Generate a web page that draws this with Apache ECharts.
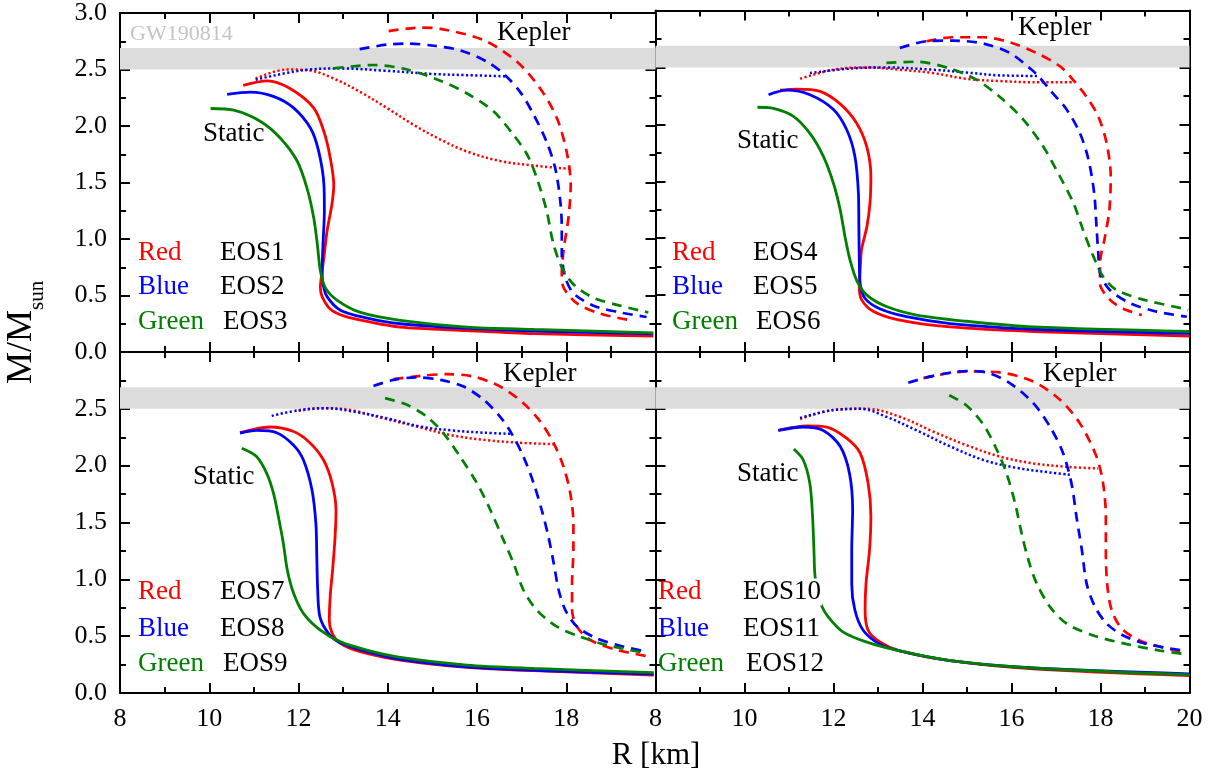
<!DOCTYPE html>
<html><head><meta charset="utf-8">
<script src="https://cdn.jsdelivr.net/npm/echarts@6/dist/echarts.min.js"></script>
<style>html,body{margin:0;padding:0;background:#fff}#c{width:1217px;height:776px}</style>
</head><body><div id="c"></div>
<script>
// ---------- data: [R (km), M/Msun] ----------
// Panel 1 (EOS1-3)
const eos1Static = [[10.76,2.36],[11.30,2.40],[11.82,2.33],[12.34,2.16],[12.57,1.95],[12.71,1.72],[12.79,1.48],[12.75,1.31],[12.64,1.07],[12.57,0.84],[12.51,0.66],[12.49,0.57],[12.53,0.49],[12.71,0.38],[13.01,0.32],[13.54,0.27],[14.28,0.22],[15.77,0.19],[17.27,0.163],[19.95,0.14]];
const eos1Dotted = [[11.04,2.42],[11.74,2.50],[12.27,2.49],[12.79,2.42],[13.39,2.30],[13.98,2.16],[14.58,2.01],[15.18,1.88],[15.77,1.775],[16.52,1.69],[17.27,1.65],[18.09,1.62]];
const eos1Kepler = [[14.02,2.84],[14.73,2.87],[15.18,2.86],[16.15,2.76],[16.89,2.57],[17.42,2.33],[17.79,2.07],[18.01,1.77],[18.10,1.48],[18.05,1.19],[17.94,0.90],[17.90,0.69],[17.94,0.57],[18.24,0.43],[18.76,0.34],[19.45,0.28]];
const eos2Static = [[10.40,2.28],[10.92,2.30],[11.45,2.26],[11.89,2.16],[12.27,1.98],[12.45,1.78],[12.57,1.48],[12.58,1.25],[12.55,0.96],[12.53,0.72],[12.55,0.60],[12.64,0.49],[12.94,0.37],[13.54,0.30],[14.28,0.25],[15.77,0.21],[17.27,0.185],[19.95,0.16]];
const eos2Dotted = [[11.04,2.41],[12.04,2.49],[12.94,2.51],[13.91,2.49],[15.03,2.46],[15.77,2.45],[16.63,2.44]];
const eos2Kepler = [[13.37,2.68],[13.98,2.72],[14.43,2.73],[15.03,2.71],[15.62,2.67],[16.22,2.57],[16.63,2.45],[16.97,2.30],[17.27,2.10],[17.56,1.86],[17.75,1.63],[17.86,1.36],[17.90,1.10],[17.90,0.87],[17.98,0.66],[18.16,0.52],[18.61,0.41],[19.21,0.35],[19.80,0.31]];
const eos3Static = [[10.03,2.155],[10.55,2.14],[11.15,2.04],[11.60,1.89],[11.97,1.69],[12.19,1.45],[12.34,1.19],[12.42,0.96],[12.49,0.72],[12.60,0.57],[12.86,0.46],[13.39,0.35],[14.28,0.28],[15.77,0.22],[17.27,0.20],[19.95,0.17]];
const eos3Kepler = [[12.79,2.51],[13.68,2.54],[14.43,2.50],[15.18,2.40],[15.77,2.29],[16.37,2.13],[16.82,1.92],[17.12,1.75],[17.34,1.54],[17.56,1.25],[17.71,0.96],[17.90,0.75],[18.16,0.60],[18.61,0.48],[19.21,0.41],[19.84,0.35]];
// Panel 2 (EOS4-6)
const eos4Static = [[10.80,2.30],[11.17,2.31],[11.70,2.29],[12.15,2.18],[12.52,2.01],[12.75,1.80],[12.84,1.54],[12.82,1.31],[12.75,1.10],[12.63,0.90],[12.60,0.72],[12.58,0.57],[12.63,0.46],[12.90,0.355],[13.49,0.28],[14.62,0.22],[16.49,0.18],[20.0,0.14]];
const eos4Dotted = [[11.25,2.40],[12.0,2.48],[12.75,2.50],[13.49,2.48],[14.24,2.45],[14.99,2.40],[15.74,2.38],[16.49,2.37],[17.39,2.37]];
const eos4Kepler = [[14.09,2.73],[14.69,2.765],[15.37,2.765],[15.97,2.72],[16.57,2.625],[17.09,2.51],[17.43,2.37],[17.69,2.24],[17.95,2.07],[18.14,1.83],[18.23,1.54],[18.20,1.25],[18.10,1.01],[17.99,0.78],[17.99,0.60],[18.21,0.46],[18.51,0.38],[18.93,0.325]];
const eos5Static = [[10.54,2.26],[10.95,2.30],[11.47,2.26],[12.0,2.13],[12.30,1.95],[12.48,1.72],[12.56,1.39],[12.57,1.10],[12.58,0.81],[12.60,0.60],[12.71,0.47],[13.04,0.38],[13.64,0.31],[14.62,0.25],[16.49,0.20],[20.0,0.163]];
const eos5Dotted = [[11.47,2.45],[12.37,2.49],[13.12,2.50],[14.24,2.48],[14.99,2.455],[15.74,2.43],[16.60,2.425]];
const eos5Kepler = [[13.49,2.67],[14.09,2.73],[14.69,2.735],[15.37,2.71],[15.97,2.625],[16.42,2.49],[16.60,2.425],[16.87,2.30],[17.24,2.13],[17.54,1.92],[17.73,1.69],[17.86,1.39],[17.91,1.10],[17.95,0.87],[17.99,0.69],[18.21,0.545],[18.66,0.43],[19.26,0.355],[19.94,0.31]];
const eos6Static = [[10.29,2.15],[10.65,2.14],[11.10,2.07],[11.47,1.92],[11.77,1.72],[12.0,1.48],[12.15,1.25],[12.26,1.01],[12.37,0.81],[12.52,0.63],[12.75,0.50],[13.19,0.40],[13.87,0.325],[14.99,0.27],[16.49,0.22],[20.0,0.18]];
const eos6Kepler = [[13.19,2.54],[13.87,2.55],[14.62,2.49],[15.22,2.39],[15.74,2.24],[16.27,2.04],[16.72,1.80],[17.09,1.54],[17.39,1.31],[17.61,1.07],[17.84,0.84],[18.06,0.66],[18.36,0.545],[18.96,0.46],[19.64,0.40],[19.97,0.37]];
// Panel 3 (EOS7-9)
const eos7Static = [[10.69,2.29],[11.0,2.32],[11.36,2.34],[11.89,2.30],[12.26,2.20],[12.56,2.05],[12.75,1.85],[12.84,1.61],[12.82,1.376],[12.77,1.11],[12.71,0.85],[12.69,0.64],[12.75,0.53],[12.93,0.44],[13.38,0.364],[14.28,0.29],[15.77,0.226],[17.27,0.196],[19.96,0.158]];
const eos7Dotted = [[12.0,2.482],[12.56,2.506],[13.16,2.49],[13.90,2.417],[14.65,2.344],[15.40,2.27],[16.15,2.227],[16.89,2.203],[17.72,2.189]];
const eos7Kepler = [[14.13,2.761],[14.73,2.79],[15.32,2.805],[15.92,2.784],[16.52,2.696],[17.04,2.55],[17.42,2.388],[17.72,2.197],[17.94,1.99],[18.09,1.757],[18.16,1.493],[18.16,1.258],[18.13,0.965],[18.13,0.73],[18.24,0.584],[18.54,0.466],[19.14,0.378],[19.81,0.325]];
const eos8Static = [[10.69,2.286],[11.06,2.31],[11.51,2.29],[11.89,2.18],[12.11,2.05],[12.30,1.79],[12.39,1.49],[12.41,1.20],[12.43,0.906],[12.48,0.67],[12.67,0.525],[12.93,0.443],[13.53,0.364],[14.28,0.296],[15.77,0.23],[17.27,0.20],[19.96,0.167]];
const eos8Dotted = [[11.40,2.438],[12.04,2.49],[12.63,2.506],[13.23,2.476],[13.98,2.417],[14.73,2.344],[15.47,2.309],[16.15,2.29],[16.78,2.28]];
const eos8Kepler = [[13.68,2.70],[14.13,2.755],[14.65,2.776],[15.18,2.755],[15.70,2.696],[16.15,2.579],[16.52,2.43],[16.78,2.28],[17.04,2.08],[17.27,1.845],[17.45,1.61],[17.60,1.376],[17.72,1.14],[17.83,0.906],[17.98,0.73],[18.24,0.584],[18.69,0.48],[19.29,0.407],[19.81,0.363]];
const eos9Static = [[10.73,2.153],[11.06,2.08],[11.29,1.93],[11.44,1.757],[11.55,1.55],[11.66,1.317],[11.75,1.08],[11.89,0.877],[12.11,0.70],[12.48,0.555],[12.93,0.452],[13.53,0.378],[14.28,0.314],[15.77,0.246],[17.27,0.217],[19.96,0.179]];
const eos9Kepler = [[13.94,2.594],[14.43,2.535],[14.88,2.43],[15.25,2.285],[15.62,2.08],[16.0,1.845],[16.30,1.61],[16.56,1.376],[16.82,1.14],[17.04,0.906],[17.34,0.73],[17.79,0.584],[18.31,0.495],[18.91,0.422],[19.81,0.349]];
// Panel 4 (EOS10-12)
const eos10Static = [[10.76,2.31],[11.40,2.35],[11.85,2.34],[12.30,2.24],[12.60,2.11],[12.78,1.84],[12.84,1.55],[12.81,1.26],[12.73,0.96],[12.71,0.73],[12.78,0.55],[13.04,0.45],[13.49,0.37],[14.62,0.285],[16.49,0.212],[20.0,0.153]];
const eos10Dotted = [[11.25,2.41],[12.0,2.49],[12.75,2.50],[13.49,2.43],[14.24,2.30],[14.99,2.18],[15.74,2.08],[16.49,2.02],[17.24,1.99],[17.95,1.975]];
const eos10Kepler = [[14.02,2.77],[14.99,2.83],[15.74,2.82],[16.49,2.74],[17.09,2.58],[17.54,2.37],[17.91,2.08],[18.06,1.84],[18.12,1.55],[18.12,1.26],[18.15,0.96],[18.25,0.73],[18.48,0.565],[18.89,0.46],[19.41,0.40],[19.86,0.36]];
const eos11Static = [[10.76,2.31],[11.32,2.34],[11.77,2.31],[12.15,2.17],[12.36,1.93],[12.43,1.61],[12.41,1.26],[12.41,0.96],[12.48,0.73],[12.67,0.55],[13.04,0.43],[13.49,0.37],[14.62,0.285],[16.49,0.22],[20.0,0.168]];
const eos11Dotted = [[11.25,2.42],[12.0,2.49],[12.60,2.50],[13.19,2.43],[13.87,2.31],[14.62,2.17],[15.37,2.05],[16.12,1.98],[16.87,1.94],[17.31,1.92]];
const eos11Kepler = [[13.68,2.73],[14.24,2.79],[14.99,2.833],[15.44,2.82],[15.97,2.725],[16.49,2.55],[16.87,2.34],[17.16,2.11],[17.35,1.84],[17.46,1.55],[17.58,1.26],[17.69,0.96],[17.88,0.756],[18.14,0.61],[18.51,0.506],[19.04,0.43],[19.86,0.374]];
const eos12Static = [[11.11,2.146],[11.32,2.05],[11.47,1.84],[11.53,1.55],[11.56,1.26],[11.58,1.05],[11.63,0.90],[11.73,0.77],[11.88,0.67],[12.22,0.535],[12.75,0.447],[13.49,0.37],[14.62,0.285],[16.49,0.22],[20.0,0.16]];
const eos12Kepler = [[14.60,2.62],[14.99,2.53],[15.37,2.36],[15.67,2.14],[15.89,1.93],[16.08,1.67],[16.23,1.40],[16.38,1.17],[16.57,0.96],[16.87,0.755],[17.24,0.61],[17.84,0.506],[18.59,0.43],[19.34,0.373],[19.86,0.344]];

const gwBand = [2.5, 2.69];
const xRange = [8, 20];
const yRange = [0, 3];
const colorNames = ['Red', 'Blue', 'Green'];
const eosNames = [['EOS1','EOS2','EOS3'],['EOS4','EOS5','EOS6'],['EOS7','EOS8','EOS9'],['EOS10','EOS11','EOS12']];

// ---------- layout ----------
const COLORS = ['#ff0000', '#0000ff', '#008000'];
const FONT = '"Liberation Serif","Times New Roman",serif';
const panels = [
  { grid:{left:120, top:10.5, width:535.5, height:341.5}, curves:[[eos1Static,eos1Dotted,eos1Kepler],[eos2Static,eos2Dotted,eos2Kepler],[eos3Static,null,eos3Kepler]], xLab:false, yLab:true, xMax:true, yMax:true },
  { grid:{left:655.5, top:10.5, width:534, height:341.5}, curves:[[eos4Static,eos4Dotted,eos4Kepler],[eos5Static,eos5Dotted,eos5Kepler],[eos6Static,null,eos6Kepler]], xLab:false, yLab:false },
  { grid:{left:120, top:352, width:535.5, height:341}, curves:[[eos7Static,eos7Dotted,eos7Kepler],[eos8Static,eos8Dotted,eos8Kepler],[eos9Static,null,eos9Kepler]], xLab:true, yLab:true, xMax:false, yMax:false },
  { grid:{left:655.5, top:352, width:534, height:341}, curves:[[eos10Static,eos10Dotted,eos10Kepler],[eos11Static,eos11Dotted,eos11Kepler],[eos12Static,null,eos12Kepler]], xLab:true, yLab:false, xMax:true }
];

const tickCommon = {
  axisLine:{show:true, onZero:false, lineStyle:{color:'#000', width:2}},
  axisTick:{show:true, inside:true, length:10, lineStyle:{color:'#000', width:2}},
  minorTick:{show:true, splitNumber:2, length:6, lineStyle:{color:'#000', width:2}},
  splitLine:{show:false}, minorSplitLine:{show:false}
};
function labelStyle(show, showMax, fmt) {
  return {show, showMaxLabel:showMax, showMinLabel:true, fontSize:26, fontFamily:FONT, color:'#000', margin:13, formatter:fmt};
}

const grids = [], xAxes = [], yAxes = [], series = [];
panels.forEach((p, gi) => {
  grids.push(Object.assign({containLabel:false}, p.grid));
});
panels.forEach((p, gi) => {
  xAxes.push(Object.assign({type:'value', gridIndex:gi, position:'bottom', min:xRange[0], max:xRange[1], interval:2,
    axisLabel:labelStyle(p.xLab, !!p.xMax, v => String(v))}, JSON.parse(JSON.stringify(tickCommon))));
  yAxes.push(Object.assign({type:'value', gridIndex:gi, position:'left', min:yRange[0], max:yRange[1], interval:0.5,
    axisLabel:labelStyle(p.yLab, !!p.yMax, v => v.toFixed(1))}, JSON.parse(JSON.stringify(tickCommon))));
});
panels.forEach((p, gi) => {
  xAxes.push(Object.assign({type:'value', gridIndex:gi, position:'top', min:xRange[0], max:xRange[1], interval:2,
    axisLabel:{show:false}}, JSON.parse(JSON.stringify(tickCommon))));
  yAxes.push(Object.assign({type:'value', gridIndex:gi, position:'right', min:yRange[0], max:yRange[1], interval:0.5,
    axisLabel:{show:false}}, JSON.parse(JSON.stringify(tickCommon))));
});

function mkLine(data, color, kind, gi) {
  const ls = {color, width:2.8, type:'solid', cap:'butt'};
  if (kind === 'dashed') { ls.type = [10, 7]; ls.width = 2.7; }
  if (kind === 'dotted') { ls.type = [2.2, 2.4]; ls.width = 2.5; }
  return {type:'line', xAxisIndex:gi, yAxisIndex:gi, data, symbol:'none', showSymbol:false,
    smooth: kind === 'dotted' ? 0.35 : 0.3, clip:true, silent:true, animation:false, lineStyle:ls, z:3};
}

panels.forEach((p, gi) => {
  // GW190814 band
  series.push({type:'line', xAxisIndex:gi, yAxisIndex:gi, data:[], silent:true, animation:false,
    markArea:{silent:true, itemStyle:{color:'#dcdcdc'}, data:[[{yAxis:gwBand[0]},{yAxis:gwBand[1]}]]}, z:1});
  p.curves.forEach((c, ci) => {
    if (c[1]) series.push(mkLine(c[1], COLORS[ci], 'dotted', gi));
    series.push(mkLine(c[2], COLORS[ci], 'dashed', gi));
    series.push(mkLine(c[0], COLORS[ci], 'solid', gi));
  });
});

// ---------- annotations ----------
function txt(s, x, y, size, color, extra) {
  const st = {text:s, font:size + 'px ' + FONT, fill:color, align:'left', verticalAlign:'middle', textAlign:'left', textVerticalAlign:'middle'};
  return Object.assign({type:'text', x, y, z:100, zlevel:0, silent:true, style:st}, extra || {});
}
const graphic = [];
graphic.push(txt('GW190814', 130, 34, 22, '#c4c4c4'));
const staticPos = [[203,134],[737,141],[193,477],[737,474]];
const keplerPos = [[497,33],[1018,28],[503,374],[1043,374]];
const legX = [[138,220],[672,753],[138,220],[658,742]];
const legY = [[253,287,322],[253,287,322],[592,629,664],[592,629,664]];
panels.forEach((p, gi) => {
  graphic.push(txt('Static', staticPos[gi][0], staticPos[gi][1], 27, '#000'));
  graphic.push(txt('Kepler', keplerPos[gi][0], keplerPos[gi][1], 27, '#000'));
  for (let k = 0; k < 3; k++) {
    graphic.push(txt(colorNames[k], legX[gi][0], legY[gi][k], 27, COLORS[k]));
    const g = txt(eosNames[gi][k], legX[gi][1] + (k === 2 ? 3 : 0), legY[gi][k], 27, '#000');
    if (gi === 3) { g.style.backgroundColor = '#fff'; g.style.padding = [0, 1]; }
    graphic.push(g);
  }
});
// axis titles
graphic.push({type:'text', x:22, y:384, rotation:Math.PI/2, z:100, silent:true,
  style:{text:'M/M', font:'36px ' + FONT, fill:'#000', align:'left', verticalAlign:'middle', textAlign:'left', textVerticalAlign:'middle'}});
graphic.push({type:'text', x:37, y:310, rotation:Math.PI/2, z:100, silent:true,
  style:{text:'sun', font:'21px ' + FONT, fill:'#000', align:'left', verticalAlign:'middle', textAlign:'left', textVerticalAlign:'middle'}});
graphic.push(txt('R [km]', 656, 756, 30, '#000', {style:{text:'R [km]', font:'31px ' + FONT, fill:'#000', align:'center', verticalAlign:'middle', textAlign:'center', textVerticalAlign:'middle'}}));

const chart = echarts.init(document.getElementById('c'), null, {renderer:'canvas'});
chart.setOption({
  animation:false,
  backgroundColor:'#fff',
  grid:grids, xAxis:xAxes, yAxis:yAxes, series, graphic
});
</script></body></html>
